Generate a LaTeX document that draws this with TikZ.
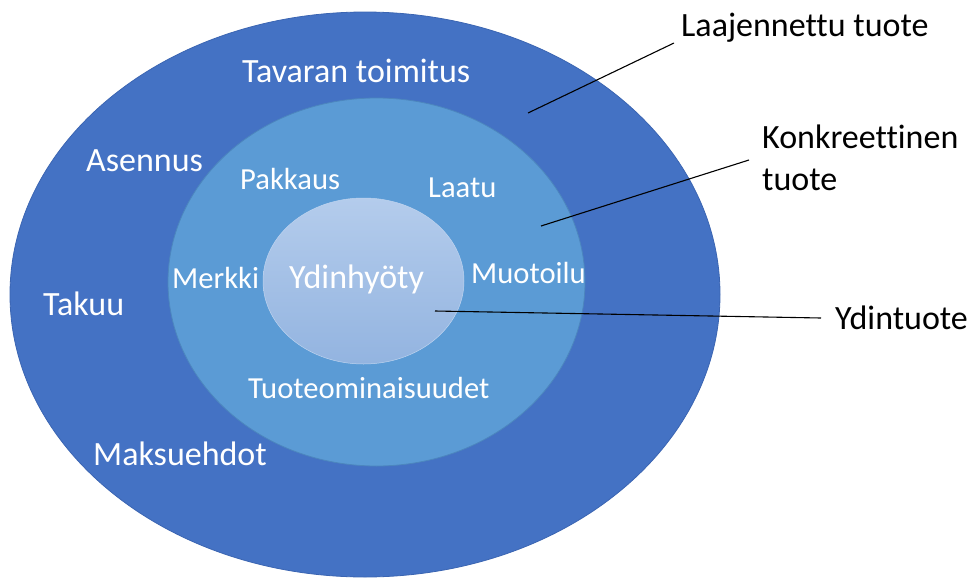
\documentclass[tikz,border=0pt]{standalone}
\usepackage{fontspec}
\setmainfont{Carlito}[Ligatures=NoCommon]
\usetikzlibrary{shapes.geometric}
\definecolor{outerblue}{HTML}{4472C4}
\definecolor{outerline}{HTML}{3B65B2}
\definecolor{midblue}{HTML}{5B9BD5}
\definecolor{midline}{HTML}{4C86BE}
\definecolor{innertop}{HTML}{B4CCEC}
\definecolor{innerbot}{HTML}{93B4E0}
\begin{document}
\begin{tikzpicture}[x=1pt,y=-1pt,
  ring/.style={ellipse, inner sep=0pt, outer sep=0pt},
  biglab/.style={text=white, font=\fontsize{34}{40}\selectfont, inner sep=0pt, anchor=base west},
  midlab/.style={text=white, font=\fontsize{30.6}{36}\selectfont, inner sep=0pt, anchor=base west},
  sidelab/.style={text=black, font=\fontsize{34}{40}\selectfont, inner sep=0pt, anchor=base west},
  leader/.style={draw=black, line width=1.1pt}]
\useasboundingbox (0,0) rectangle (970,579);
% rings
\node[ring, fill=outerblue, draw=outerline, line width=0.8pt,
      minimum width=710pt, minimum height=565pt] (outer) at (365,294.5) {};
\node[ring, fill=midblue, draw=midline, line width=0.8pt,
      minimum width=417pt, minimum height=368pt] (middle) at (376.5,282) {};
\node[ring, top color=innertop, bottom color=innerbot, draw=innertop!85!white, line width=0.5pt,
      minimum width=201pt, minimum height=166pt] (inner) at (363.5,281) {};
% outer ring labels
\node[biglab] (toimitus) at (242,82) {Tavaran toimitus};
\node[biglab] (asennus) at (86,171) {Asennus};
\node[biglab] (takuu) at (43,315) {Takuu};
\node[biglab] (maksu) at (93,465) {Maksuehdot};
% middle ring labels
\node[midlab] (pakkaus) at (240,189) {Pakkaus};
\node[midlab] (laatu) at (428,197) {Laatu};
\node[midlab] (merkki) at (172,288) {Merkki};
\node[midlab] (muotoilu) at (471,283) {Muotoilu};
\node[midlab] (ominaisuudet) at (248,398) {Tuoteominaisuudet};
% core label
\node[biglab] (hyoty) at (289,288) {Ydinhyöty};
% side labels
\node[sidelab] (laaj) at (681,36) {Laajennettu tuote};
\node[sidelab] (konk1) at (762,148) {Konkreettinen};
\node[sidelab] (konk2) at (762,190) {tuote};
\node[sidelab] (ydin) at (835,329) {Ydintuote};
% leader ends
\coordinate (l1a) at (674,43);
\coordinate (l1b) at (528,113);
\coordinate (l2a) at (749,160);
\coordinate (l2b) at (541,226);
\coordinate (l3a) at (821,318);
\coordinate (l3b) at (435,311);
\draw[leader] (l1a) -- (l1b);
\draw[leader] (l2a) -- (l2b);
\draw[leader] (l3a) -- (l3b);
\end{tikzpicture}
\end{document}
